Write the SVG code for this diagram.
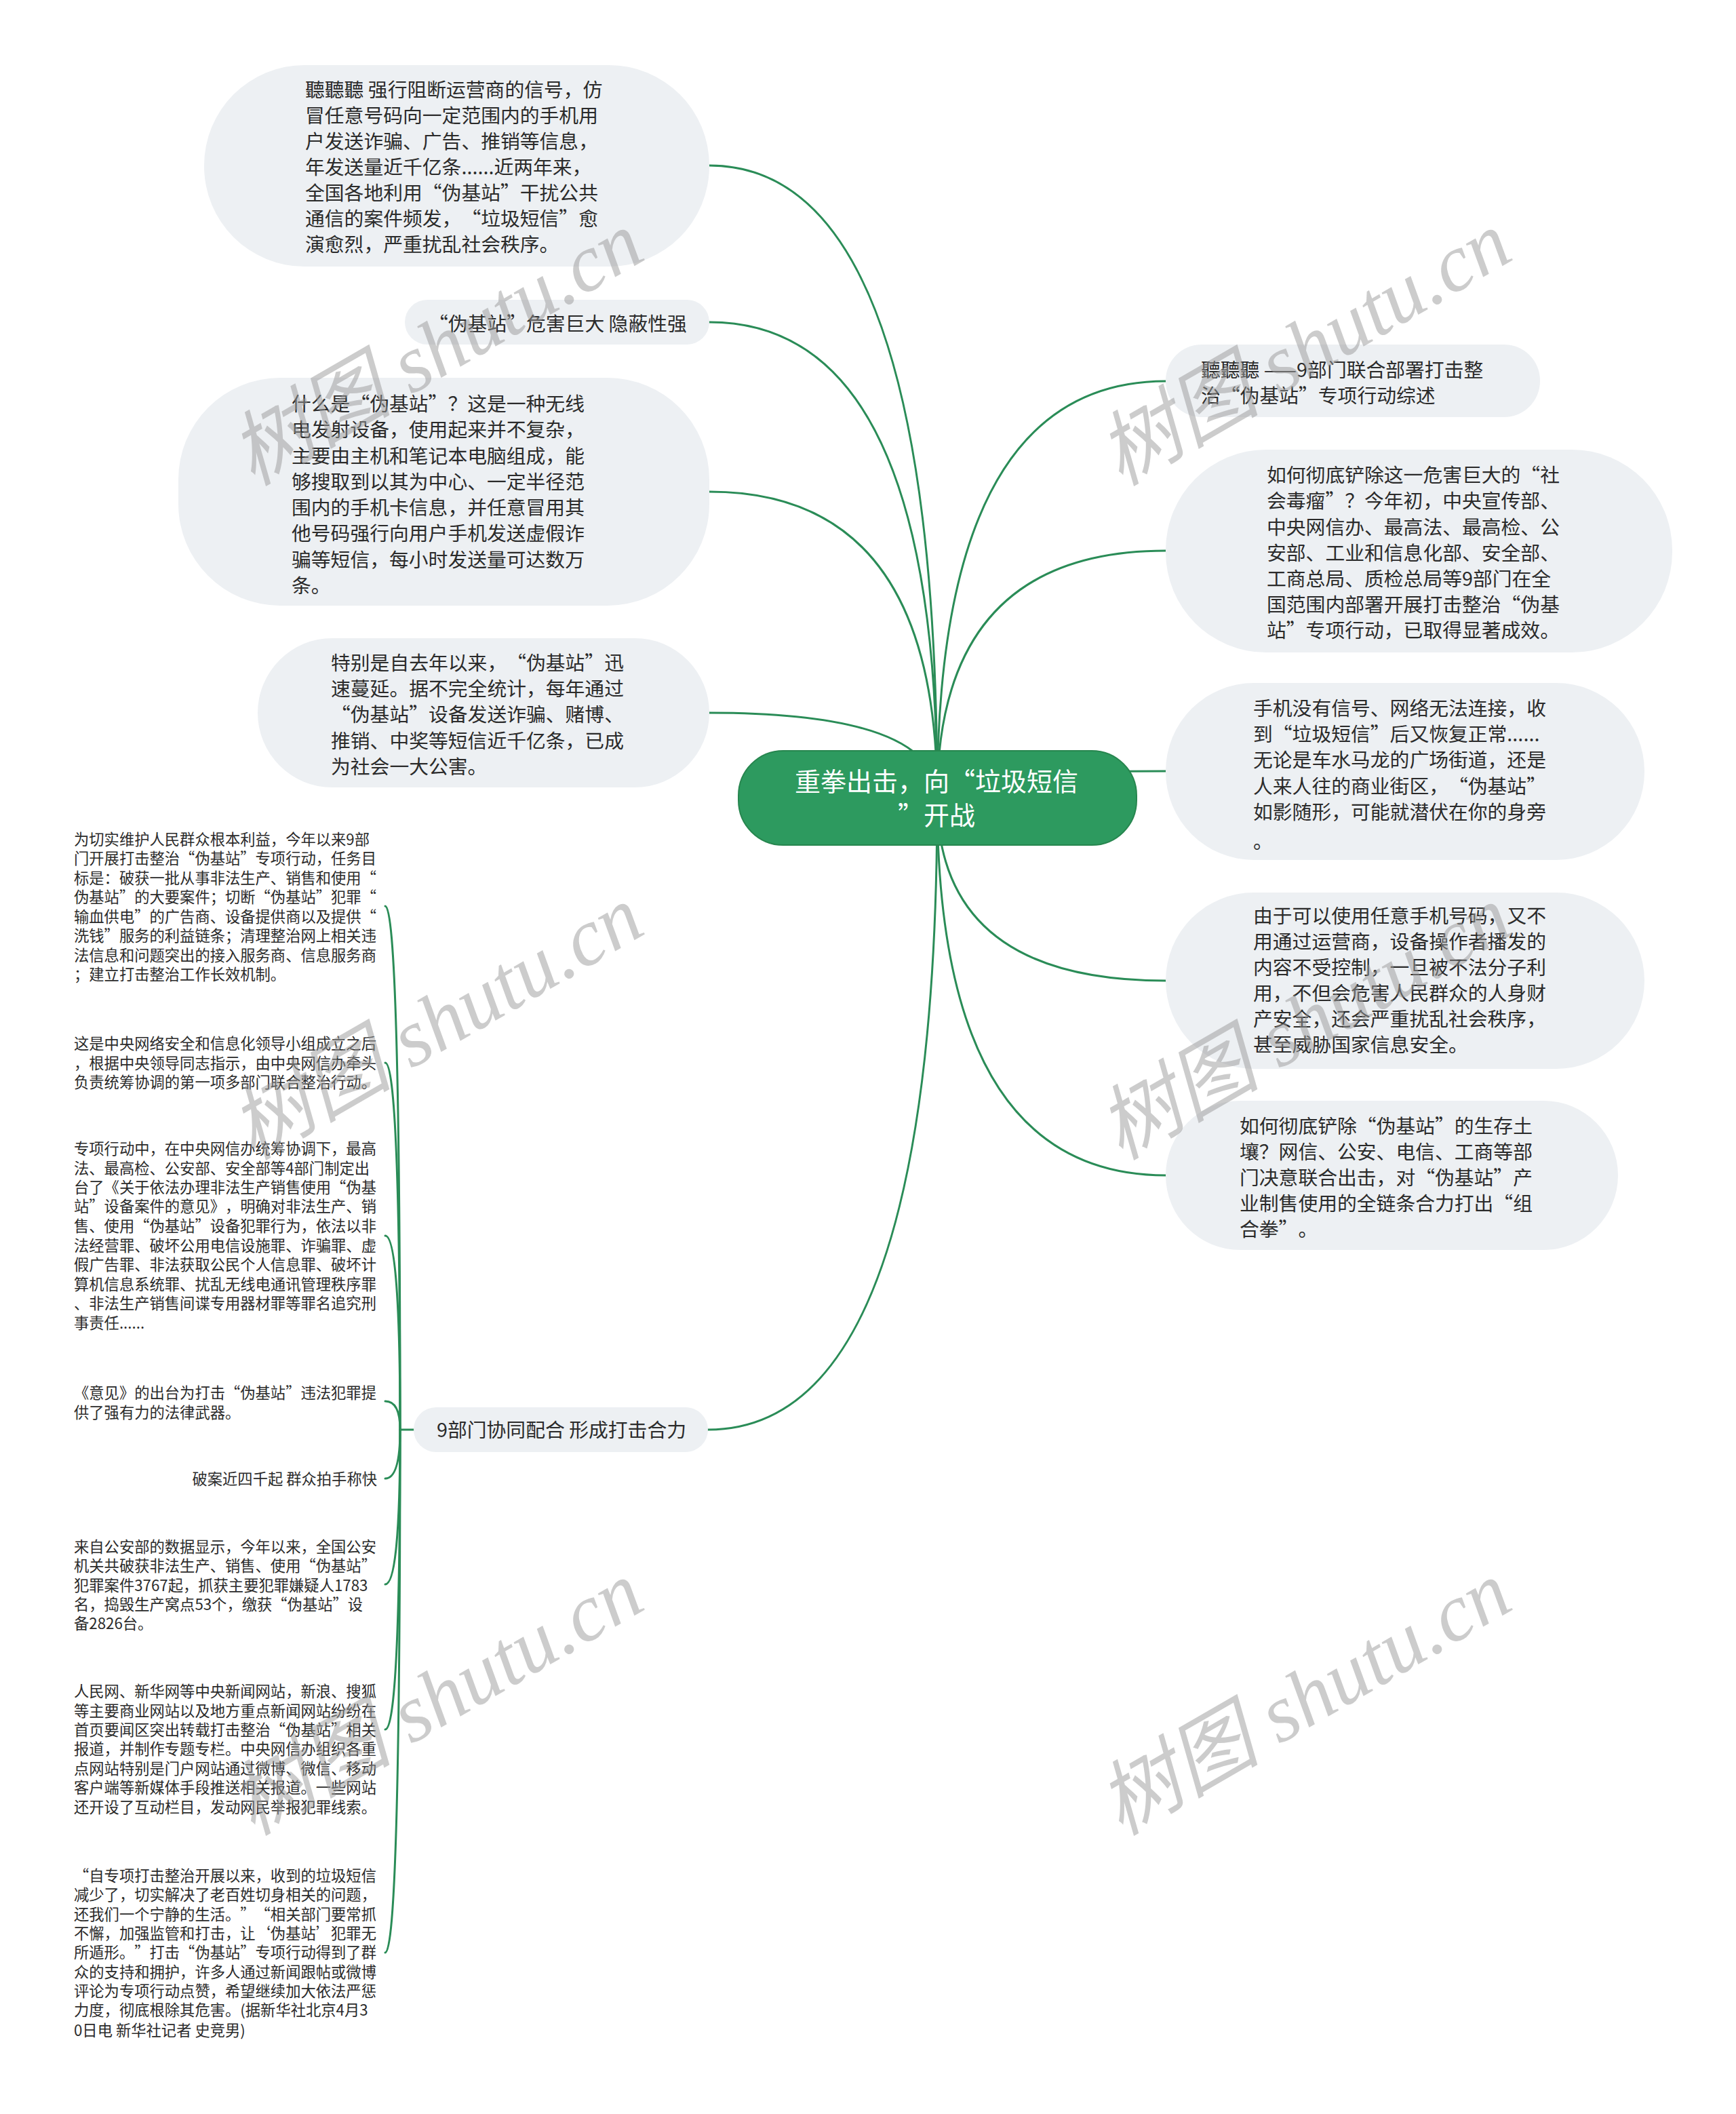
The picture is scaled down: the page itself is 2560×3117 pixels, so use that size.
<svg xmlns="http://www.w3.org/2000/svg" width="2560" height="3117" viewBox="0 0 2560 3117">
<style>
.bg{fill:#ffffff}
.node{fill:#edf0f3}
.root{fill:#2d9a5f;stroke:#27864f;stroke-width:2}
text{text-spacing-trim:space-all}
.t{font-family:"Noto Sans CJK SC","Noto Sans",sans-serif;font-size:28.8px;fill:#2b2b2b}
.rt{font-family:"Noto Sans CJK SC","Noto Sans",sans-serif;font-size:38px;fill:#ffffff;text-anchor:middle}
.lt{font-family:"Noto Sans CJK SC","Noto Sans",sans-serif;font-size:22.3px;fill:#2b2b2b}
.ln{fill:none;stroke:#2a8c57;stroke-width:3;stroke-linecap:round}
.wm{font-family:"Liberation Serif","Noto Sans CJK SC",serif;font-style:italic;font-size:120px;fill:#9a9a9a;opacity:0.5;text-anchor:middle}
</style>
<rect class="bg" x="0" y="0" width="2560" height="3117"/>

<g id="connectors">
<path class="ln" d="M1382,1176 Q1382,244 1046,244"/>
<path class="ln" d="M1382,1176 Q1382,475 1046,475"/>
<path class="ln" d="M1382,1176 Q1382,725 1046,725"/>
<path class="ln" d="M1382,1176 Q1382,1051 1046,1051"/>
<path class="ln" d="M1382,1176 Q1382,2108 1044,2108"/>
<path class="ln" d="M1382,1176 Q1382,562 1719,562"/>
<path class="ln" d="M1382,1176 Q1382,812 1719,812"/>
<path class="ln" d="M1382,1176 Q1382,1137 1719,1137"/>
<path class="ln" d="M1382,1176 Q1382,1446 1719,1446"/>
<path class="ln" d="M1382,1176 Q1382,1733 1719,1733"/>
<path class="ln" d="M610,2108 H590"/>
<path class="ln" d="M590,2108 Q590,1336 568,1336"/>
<path class="ln" d="M590,2108 Q590,1567 568,1567"/>
<path class="ln" d="M590,2108 Q590,1822 568,1822"/>
<path class="ln" d="M590,2108 Q590,2066 568,2066"/>
<path class="ln" d="M590,2108 Q590,2180 568,2180"/>
<path class="ln" d="M590,2108 Q590,2336 568,2336"/>
<path class="ln" d="M590,2108 Q590,2550 568,2550"/>
<path class="ln" d="M590,2108 Q590,2879 568,2879"/>
</g>

<g id="root">
<rect class="root" x="1089" y="1107" width="587" height="139" rx="66"/>
<text class="rt" x="1381" y="1166">重拳出击，向“垃圾短信</text>
<text class="rt" x="1381" y="1216">”开战</text>
</g>

<g id="nodeA">
<rect class="node" x="301" y="96" width="745" height="297" rx="148"/>
<text class="t"><tspan x="450" y="143">聽聽聽 强行阻断运营商的信号，仿</tspan><tspan x="450" y="181">冒任意号码向一定范围内的手机用</tspan><tspan x="450" y="219">户发送诈骗、广告、推销等信息，</tspan><tspan x="450" y="257">年发送量近千亿条......近两年来，</tspan><tspan x="450" y="295">全国各地利用“伪基站”干扰公共</tspan><tspan x="450" y="333">通信的案件频发，“垃圾短信”愈</tspan><tspan x="450" y="371">演愈烈，严重扰乱社会秩序。</tspan></text>
</g>

<g id="nodeB">
<rect class="node" x="597" y="442" width="449" height="66" rx="33"/>
<text class="t" x="632" y="488">“伪基站”危害巨大 隐蔽性强</text>
</g>

<g id="nodeC">
<rect class="node" x="263" y="557" width="783" height="336" rx="150"/>
<text class="t"><tspan x="430" y="606">什么是“伪基站”？这是一种无线</tspan><tspan x="430" y="644">电发射设备，使用起来并不复杂，</tspan><tspan x="430" y="683">主要由主机和笔记本电脑组成，能</tspan><tspan x="430" y="721">够搜取到以其为中心、一定半径范</tspan><tspan x="430" y="759">围内的手机卡信息，并任意冒用其</tspan><tspan x="430" y="797">他号码强行向用户手机发送虚假诈</tspan><tspan x="430" y="836">骗等短信，每小时发送量可达数万</tspan><tspan x="430" y="874">条。</tspan></text>
</g>

<g id="nodeD">
<rect class="node" x="380" y="941" width="666" height="220" rx="110"/>
<text class="t"><tspan x="488" y="988">特别是自去年以来，“伪基站”迅</tspan><tspan x="488" y="1026">速蔓延。据不完全统计，每年通过</tspan><tspan x="488" y="1064">“伪基站”设备发送诈骗、赌博、</tspan><tspan x="488" y="1103">推销、中奖等短信近千亿条，已成</tspan><tspan x="488" y="1141">为社会一大公害。</tspan></text>
</g>

<g id="nodeE">
<rect class="node" x="1719" y="508" width="552" height="107" rx="53"/>
<text class="t"><tspan x="1771" y="556">聽聽聽 ——9部门联合部署打击整</tspan><tspan x="1771" y="594">治“伪基站”专项行动综述</tspan></text>
</g>

<g id="nodeF">
<rect class="node" x="1719" y="663" width="747" height="299" rx="148"/>
<text class="t"><tspan x="1868" y="711">如何彻底铲除这一危害巨大的“社</tspan><tspan x="1868" y="749">会毒瘤”？今年初，中央宣传部、</tspan><tspan x="1868" y="788">中央网信办、最高法、最高检、公</tspan><tspan x="1868" y="826">安部、工业和信息化部、安全部、</tspan><tspan x="1868" y="864">工商总局、质检总局等9部门在全</tspan><tspan x="1868" y="902">国范围内部署开展打击整治“伪基</tspan><tspan x="1868" y="940">站”专项行动，已取得显著成效。</tspan></text>
</g>

<g id="nodeG">
<rect class="node" x="1719" y="1007" width="706" height="261" rx="130"/>
<text class="t"><tspan x="1848" y="1055">手机没有信号、网络无法连接，收</tspan><tspan x="1848" y="1093">到“垃圾短信”后又恢复正常......</tspan><tspan x="1848" y="1131">无论是车水马龙的广场街道，还是</tspan><tspan x="1848" y="1170">人来人往的商业街区，“伪基站”</tspan><tspan x="1848" y="1208">如影随形，可能就潜伏在你的身旁</tspan><tspan x="1848" y="1251">。</tspan></text>
</g>

<g id="nodeH">
<rect class="node" x="1719" y="1316" width="706" height="260" rx="130"/>
<text class="t"><tspan x="1848" y="1361">由于可以使用任意手机号码，又不</tspan><tspan x="1848" y="1399">用通过运营商，设备操作者播发的</tspan><tspan x="1848" y="1437">内容不受控制，一旦被不法分子利</tspan><tspan x="1848" y="1475">用，不但会危害人民群众的人身财</tspan><tspan x="1848" y="1513">产安全，还会严重扰乱社会秩序，</tspan><tspan x="1848" y="1551">甚至威胁国家信息安全。</tspan></text>
</g>

<g id="nodeI">
<rect class="node" x="1719" y="1623" width="667" height="220" rx="110"/>
<text class="t"><tspan x="1828" y="1671">如何彻底铲除“伪基站”的生存土</tspan><tspan x="1828" y="1709">壤？网信、公安、电信、工商等部</tspan><tspan x="1828" y="1747">门决意联合出击，对“伪基站”产</tspan><tspan x="1828" y="1785">业制售使用的全链条合力打出“组</tspan><tspan x="1828" y="1823">合拳”。</tspan></text>
</g>

<g id="nodeJ">
<rect class="node" x="610" y="2075" width="434" height="66" rx="33"/>
<text class="t" x="644" y="2119">9部门协同配合 形成打击合力</text>
</g>

<g id="leaf1">
<text class="lt"><tspan x="109" y="1246">为切实维护人民群众根本利益，今年以来9部</tspan><tspan x="109" y="1274">门开展打击整治“伪基站”专项行动，任务目</tspan><tspan x="109" y="1303">标是：破获一批从事非法生产、销售和使用“</tspan><tspan x="109" y="1331">伪基站”的大要案件；切断“伪基站”犯罪“</tspan><tspan x="109" y="1360">输血供电”的广告商、设备提供商以及提供“</tspan><tspan x="109" y="1388">洗钱”服务的利益链条；清理整治网上相关违</tspan><tspan x="109" y="1417">法信息和问题突出的接入服务商、信息服务商</tspan><tspan x="109" y="1445">；建立打击整治工作长效机制。</tspan></text>
</g>

<g id="leaf2">
<text class="lt"><tspan x="109" y="1547">这是中央网络安全和信息化领导小组成立之后</tspan><tspan x="109" y="1576">，根据中央领导同志指示，由中央网信办牵头</tspan><tspan x="109" y="1604">负责统筹协调的第一项多部门联合整治行动。</tspan></text>
</g>

<g id="leaf3">
<text class="lt"><tspan x="109" y="1702">专项行动中，在中央网信办统筹协调下，最高</tspan><tspan x="109" y="1731">法、最高检、公安部、安全部等4部门制定出</tspan><tspan x="109" y="1759">台了《关于依法办理非法生产销售使用“伪基</tspan><tspan x="109" y="1787">站”设备案件的意见》，明确对非法生产、销</tspan><tspan x="109" y="1816">售、使用“伪基站”设备犯罪行为，依法以非</tspan><tspan x="109" y="1845">法经营罪、破坏公用电信设施罪、诈骗罪、虚</tspan><tspan x="109" y="1873">假广告罪、非法获取公民个人信息罪、破坏计</tspan><tspan x="109" y="1902">算机信息系统罪、扰乱无线电通讯管理秩序罪</tspan><tspan x="109" y="1930">、非法生产销售间谍专用器材罪等罪名追究刑</tspan><tspan x="109" y="1959">事责任......</tspan></text>
</g>

<g id="leaf4">
<text class="lt"><tspan x="109" y="2062">《意见》的出台为打击“伪基站”违法犯罪提</tspan><tspan x="109" y="2091">供了强有力的法律武器。</tspan></text>
</g>

<g id="leaf5">
<text class="lt" x="556" y="2189" text-anchor="end">破案近四千起 群众拍手称快</text>
</g>

<g id="leaf6">
<text class="lt"><tspan x="109" y="2289">来自公安部的数据显示，今年以来，全国公安</tspan><tspan x="109" y="2317">机关共破获非法生产、销售、使用“伪基站”</tspan><tspan x="109" y="2346">犯罪案件3767起，抓获主要犯罪嫌疑人1783</tspan><tspan x="109" y="2374">名，捣毁生产窝点53个，缴获“伪基站”设</tspan><tspan x="109" y="2402">备2826台。</tspan></text>
</g>

<g id="leaf7">
<text class="lt"><tspan x="109" y="2502">人民网、新华网等中央新闻网站，新浪、搜狐</tspan><tspan x="109" y="2531">等主要商业网站以及地方重点新闻网站纷纷在</tspan><tspan x="109" y="2559">首页要闻区突出转载打击整治“伪基站”相关</tspan><tspan x="109" y="2587">报道，并制作专题专栏。中央网信办组织各重</tspan><tspan x="109" y="2616">点网站特别是门户网站通过微博、微信、移动</tspan><tspan x="109" y="2644">客户端等新媒体手段推送相关报道。一些网站</tspan><tspan x="109" y="2673">还开设了互动栏目，发动网民举报犯罪线索。</tspan></text>
</g>

<g id="leaf8">
<text class="lt"><tspan x="109" y="2774">“自专项打击整治开展以来，收到的垃圾短信</tspan><tspan x="109" y="2802">减少了，切实解决了老百姓切身相关的问题，</tspan><tspan x="109" y="2831">还我们一个宁静的生活。”“相关部门要常抓</tspan><tspan x="109" y="2859">不懈，加强监管和打击，让‘伪基站’犯罪无</tspan><tspan x="109" y="2887">所遁形。”打击“伪基站”专项行动得到了群</tspan><tspan x="109" y="2916">众的支持和拥护，许多人通过新闻跟帖或微博</tspan><tspan x="109" y="2944">评论为专项行动点赞，希望继续加大依法严惩</tspan><tspan x="109" y="2972">力度，彻底根除其危害。(据新华社北京4月3</tspan><tspan x="109" y="3002">0日电 新华社记者 史竞男)</tspan></text>
</g>

<g id="watermarks">
<text class="wm" transform="translate(646,518) rotate(-30)" y="36">树图 shutu.cn</text>
<text class="wm" transform="translate(1926,518) rotate(-30)" y="36">树图 shutu.cn</text>
<text class="wm" transform="translate(646,1512) rotate(-30)" y="36">树图 shutu.cn</text>
<text class="wm" transform="translate(1926,1512) rotate(-30)" y="36">树图 shutu.cn</text>
<text class="wm" transform="translate(646,2508) rotate(-30)" y="36">树图 shutu.cn</text>
<text class="wm" transform="translate(1926,2508) rotate(-30)" y="36">树图 shutu.cn</text>
</g>
</svg>
